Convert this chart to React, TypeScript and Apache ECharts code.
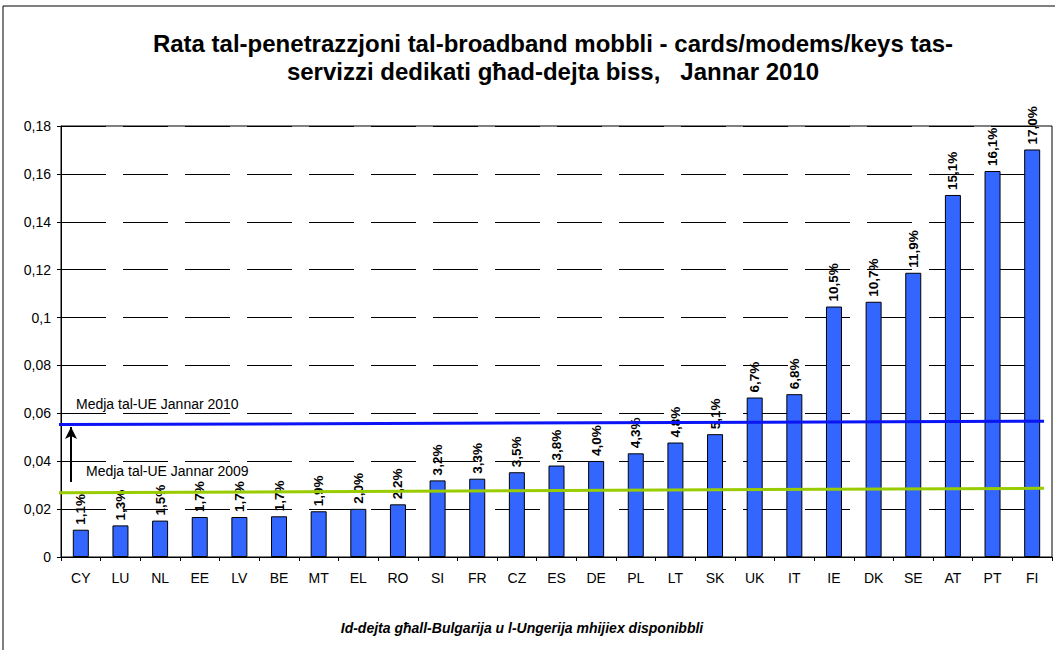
import React, { useEffect, useRef } from "react";
import * as echarts from "echarts";

const countries = ["CY","LU","NL","EE","LV","BE","MT","EL","RO","SI","FR","CZ","ES","DE","PL","LT","SK","UK","IT","IE","DK","SE","AT","PT","FI"];
const penetration = [0.0114,0.0132,0.0152,0.0167,0.0167,0.0170,0.0191,0.0201,0.0220,0.0320,0.0327,0.0354,0.0382,0.0401,0.0433,0.0478,0.0513,0.0666,0.0680,0.1046,0.1066,0.1187,0.1512,0.1612,0.1702];
// EU averages drawn as slightly sloped lines across the plot (start / end positions on a 0..1 overlay axis)
const avgLineX = [-0.003, 0.992];
const euAvg2010 = [0.0553, 0.0567];
const euAvg2009 = [0.0268, 0.0287];
const arrowX = 0.0101;
const arrowFromTo = [0.0313, 0.0543];
const yTicks = { min: 0, max: 0.18, interval: 0.02 };

const titleLines = [
  "Rata tal-penetrazzjoni tal-broadband mobbli - cards/modems/keys tas-",
  "servizzi dedikati għad-dejta biss,   Jannar 2010",
];
const note = "Id-dejta għall-Bulgarija u l-Ungerija mhijiex disponibbli";
const label2010 = "Medja tal-UE Jannar 2010";
const label2009 = "Medja tal-UE Jannar 2009";

const FONT = "Arial, 'Liberation Sans', sans-serif";

export default function App() {
  const ref = useRef<HTMLDivElement>(null);
  useEffect(() => {
    if (!ref.current) return;
    const chart = echarts.init(ref.current, null, { renderer: "svg" });
    const fmtAxis = (v: number) => (v === 0 ? "0" : String(+v.toFixed(2)).replace(".", ","));
    chart.setOption({
      animation: false,
      backgroundColor: "#fff",
      grid: { left: 61, top: 126, width: 991, height: 431, show: true, borderColor: "#000", borderWidth: 1, backgroundColor: "transparent" },
      xAxis: [
        {
          type: "category",
          data: countries,
          axisLine: { lineStyle: { color: "#000", width: 1 } },
          axisTick: { show: true, length: 4, lineStyle: { color: "#000" } },
          axisLabel: { color: "#000", fontSize: 14, fontFamily: FONT, margin: 14, interval: 0 },
        },
        { type: "value", min: 0, max: 1, show: false },
      ],
      yAxis: {
        type: "value",
        min: yTicks.min,
        max: yTicks.max,
        interval: yTicks.interval,
        axisLine: { show: true, lineStyle: { color: "#000", width: 1 } },
        axisTick: { show: true, length: 4, lineStyle: { color: "#000" } },
        axisLabel: { color: "#000", fontSize: 14, fontFamily: FONT, margin: 10, formatter: fmtAxis },
        splitLine: { show: true, lineStyle: { color: "#000", width: 1, type: [45, 17] } },
      },
      series: [
        {
          type: "bar",
          data: penetration,
          barWidth: 16,
          itemStyle: { color: "#3366FF", borderColor: "#000", borderWidth: 1 },
          label: {
            show: true,
            position: "top",
            rotate: 90,
            align: "left",
            verticalAlign: "middle",
            distance: 5,
            color: "#000",
            fontWeight: "bold",
            fontSize: 13.5,
            fontFamily: FONT,
            formatter: (p: any) => (p.value * 100).toFixed(1).replace(".", ",") + "%",
          },
          z: 2,
        },
        {
          type: "line",
          xAxisIndex: 1,
          data: avgLineX.map((x, i) => [x, euAvg2009[i]]),
          symbol: "none",
          clip: false,
          lineStyle: { color: "#99CC00", width: 3 },
          z: 3,
        },
        {
          type: "line",
          xAxisIndex: 1,
          data: avgLineX.map((x, i) => [x, euAvg2010[i]]),
          symbol: "none",
          clip: false,
          lineStyle: { color: "#0A14F5", width: 3 },
          z: 3,
          markLine: {
            silent: true,
            symbol: ["none", "arrow"],
            symbolSize: [9, 12],
            label: { show: false },
            lineStyle: { color: "#000", width: 2, type: "solid" },
            data: [[{ coord: [arrowX, arrowFromTo[0]] }, { coord: [arrowX, arrowFromTo[1]] }]],
          },
        },
      ],
      graphic: [
        { type: "rect", shape: { x: 3, y: 6, width: 1100, height: 700 }, style: { fill: "none", stroke: "#000", lineWidth: 1 }, silent: true },
        { type: "text", x: 553, y: 43, style: { text: titleLines[0], font: `bold 24px ${FONT}`, fill: "#000", textAlign: "center", textVerticalAlign: "middle" } },
        { type: "text", x: 553, y: 71, style: { text: titleLines[1], font: `bold 24px ${FONT}`, fill: "#000", textAlign: "center", textVerticalAlign: "middle" } },
        { type: "text", x: 76, y: 404, z: 10, style: { text: label2010, font: `14px ${FONT}`, fill: "#000", textVerticalAlign: "middle" } },
        { type: "text", x: 86, y: 471, z: 10, style: { text: label2009, font: `14px ${FONT}`, fill: "#000", textVerticalAlign: "middle" } },
        { type: "text", x: 522, y: 628, style: { text: note, font: `italic bold 14px ${FONT}`, fill: "#000", textAlign: "center", textVerticalAlign: "middle" } },
      ],
    });
    return () => chart.dispose();
  }, []);
  return <div ref={ref} style={{ position: "fixed", left: 0, top: 0, width: 1055, height: 650 }} />;
}
